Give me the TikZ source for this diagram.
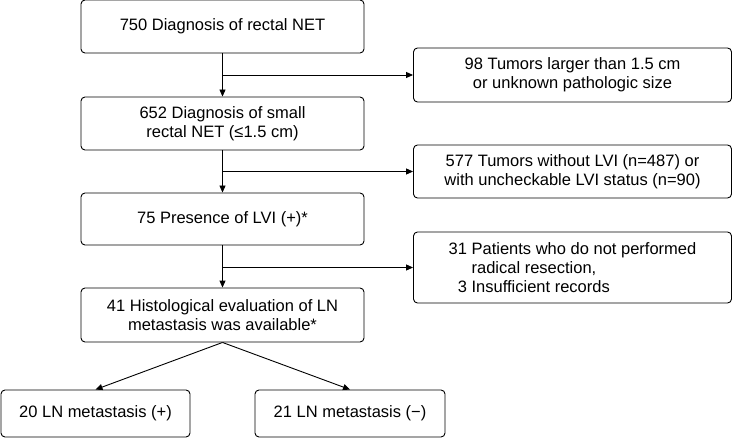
\documentclass[tikz,border=0pt]{standalone}
\usepackage{fontspec}
\setmainfont{Liberation Sans}
\usetikzlibrary{arrows.meta}

\tikzset{
  box/.style={draw, rounded corners=4pt, line width=0.9pt, align=center,
    inner sep=0pt, font=\fontsize{16.5}{19}\selectfont},
  flow/.style={line width=0.9pt, -{Triangle[length=7pt,width=6pt]}}
}

\begin{document}
\begin{tikzpicture}[x=1pt,y=-1pt]
			%%%%% START %%%%%
			\useasboundingbox (0,0) rectangle (733,438);
			
			% main column
			\node[box, minimum width=283, minimum height=53] (n750) at (222.5, 26.5) {750 Diagnosis of rectal NET};
			\node[box, minimum width=283, minimum height=53] (n652) at (222.5, 123.5) {652 Diagnosis of small\\rectal NET (≤1.5 cm)};
			\node[box, minimum width=283, minimum height=52] (n75) at (222.5, 219) {75 Presence of LVI (+)*};
			\node[box, minimum width=283, minimum height=54] (n41) at (222.5, 315) {41 Histological evaluation of LN\\metastasis was available*};
			
			% exclusions
			\node[box, minimum width=318, minimum height=54] (x98) at (572.5, 75) {98 Tumors larger than 1.5 cm\\or unknown pathologic size};
			\node[box, minimum width=318, minimum height=53] (x577) at (572.5, 171.5) {577 Tumors without LVI (n=487) or\\with uncheckable LVI status (n=90)};
			\node[box, minimum width=318, minimum height=71, align=left] (x31) at (572.5, 267.5) {31 Patients who do not performed\\\hphantom{31 }radical resection,\\\hphantom{3}3 Insufficient records};
			
			% outcome
			\node[box, minimum width=189, minimum height=47] (ln20) at (95.5, 413.5) {20 LN metastasis (+)};
			\node[box, minimum width=190, minimum height=47] (ln21) at (350, 413.5) {21 LN metastasis (\textminus)};
			
			\coordinate (b1) at (n750.south |- x98.west);
			\coordinate (b2) at (n652.south |- x577.west);
			\coordinate (b3) at (n75.south |- x31.west);
			
			\draw[flow] (n750) -- (n652);
			\draw[flow] (n652) -- (n75);
			\draw[flow] (n75) -- (n41);
			\draw[flow] (b1) -- (x98);
			\draw[flow] (b2) -- (x577);
			\draw[flow] (b3) -- (x31);
			
			\draw[flow] (n41.south) -- (ln20.north);
			\draw[flow] (n41.south) -- (ln21.north);
			%%%%% END %%%%%
		\end{tikzpicture}
\end{document}
